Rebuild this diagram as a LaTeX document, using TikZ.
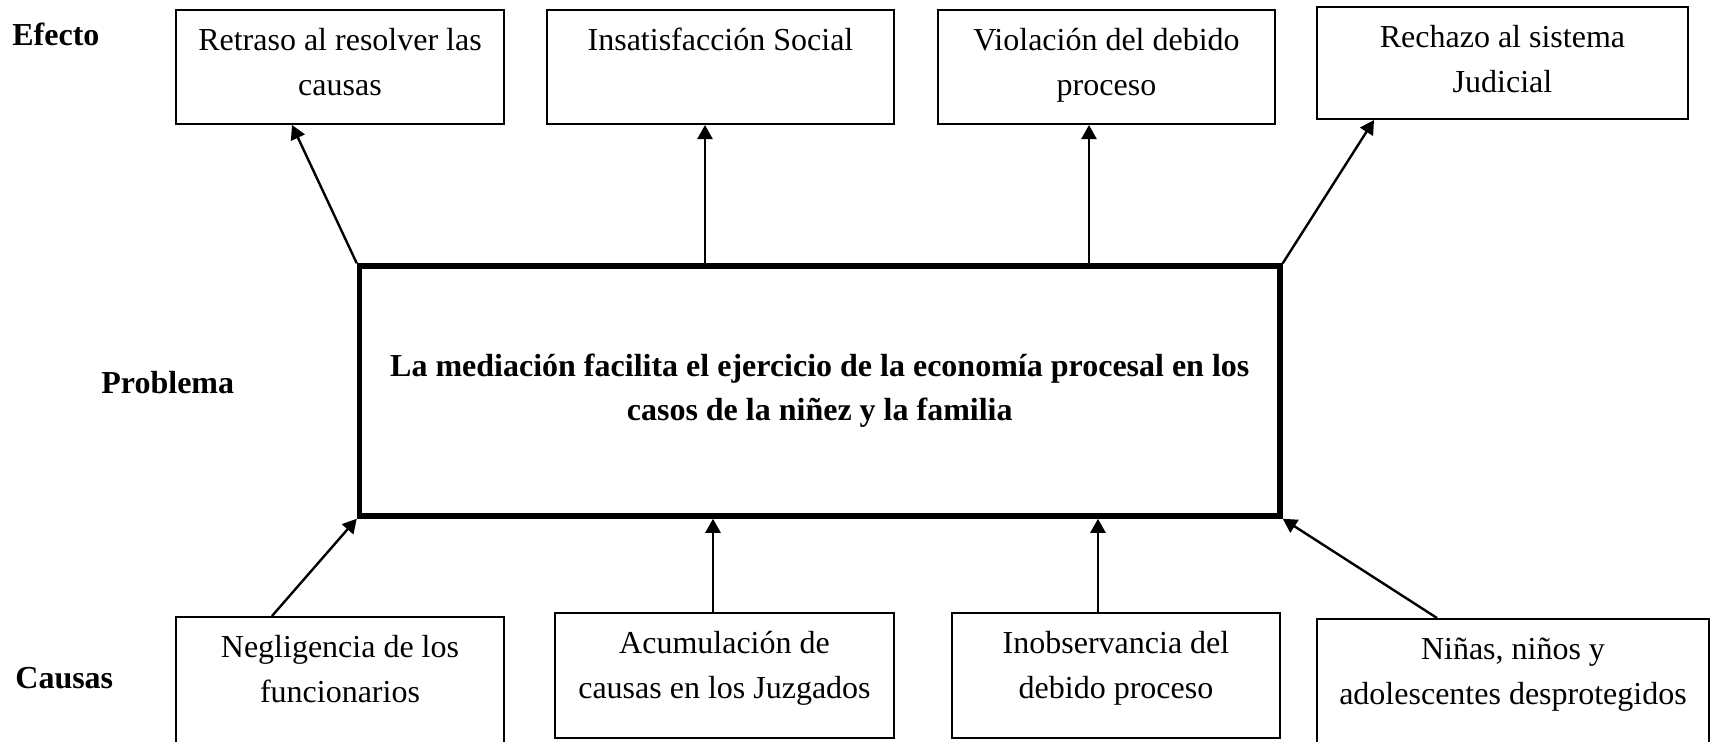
\documentclass[tikz,border=0pt]{standalone}
\usepackage{fontspec}
\setmainfont{Liberation Serif}
\usepackage{tikz}
\usetikzlibrary{arrows.meta}
\tikzset{
caja/.style={
  draw,
  line width=1pt,
  inner sep=0pt,
  align=flush center,
  anchor=base,
  text height=20pt,
  font=\fontsize{16}{22.5}\selectfont
},
problema/.style={
  draw,
  line width=2.75pt,
  align=center,
  minimum width=460.25pt,
  minimum height=125pt,
  font=\bfseries\fontsize{16}{22}\selectfont
},
etiqueta/.style={anchor=base west,inner sep=0pt,font=\bfseries\fontsize{16}{20}\selectfont},
flecha/.style={-{Triangle[length=7pt,width=7.5pt]},line width=1.2pt}
}
\begin{document}
\begin{tikzpicture}[x=0.5pt,y=-0.5pt]
\useasboundingbox (0,0) rectangle (1710,741);
% the labels
\node[etiqueta] (lefecto) at (12,45) {Efecto};
\node[etiqueta] (lproblema) at (101,393) {Problema};
\node[etiqueta] (lcausas) at (15,688) {Causas};
% the problem
\node[problema] (prob) at (819.75,391)
  {La mediación facilita el ejercicio de la economía procesal en los\\casos de la niñez y la familia};
% the effects
\node[caja,text width=164pt,text depth=37pt] (e1) at (340,50) {Retraso al resolver las\\causas};
\node[caja,text width=173.5pt,text depth=37pt] (e2) at (720.5,50) {Insatisfacción Social};
\node[caja,text width=168.5pt,text depth=37pt] (e3) at (1106.5,50) {Violación del debido\\proceso};
\node[caja,text width=185.5pt,text depth=36pt] (e4) at (1502.5,47) {Rechazo al sistema\\Judicial};
% the causes
\node[caja,text width=164pt,text depth=50pt] (c1) at (340,657) {Negligencia de los\\funcionarios};
\node[caja,text width=169.5pt,text depth=42.5pt] (c2) at (724.5,653) {Acumulación de\\causas en los Juzgados};
\node[caja,text width=164pt,text depth=42.5pt] (c3) at (1116,653) {Inobservancia del\\debido proceso};
\node[caja,text width=196pt,text depth=50pt] (c4) at (1513,659) {Niñas, niños y\\adolescentes desprotegidos};
% the arrows
\draw[flecha] (prob.north west) -- ([xshift=58.5pt]e1.south west);
\draw[flecha] ([xshift=-7.75pt]prob.north -| e2.south) -- ([xshift=-7.75pt]e2.south);
\draw[flecha] ([xshift=-8.75pt]prob.north -| e3.south) -- ([xshift=-8.75pt]e3.south);
\draw[flecha] (prob.north east) -- ([xshift=29pt]e4.south west);
\draw[flecha] ([xshift=48.5pt]c1.north west) -- (prob.south west);
\draw[flecha] ([xshift=-5.75pt]c2.north) -- ([xshift=-5.75pt]prob.south -| c2.north);
\draw[flecha] ([xshift=-9pt]c3.north) -- ([xshift=-9pt]prob.south -| c3.north);
\draw[flecha] ([xshift=60.5pt]c4.north west) -- (prob.south east);
\end{tikzpicture}
\end{document}
